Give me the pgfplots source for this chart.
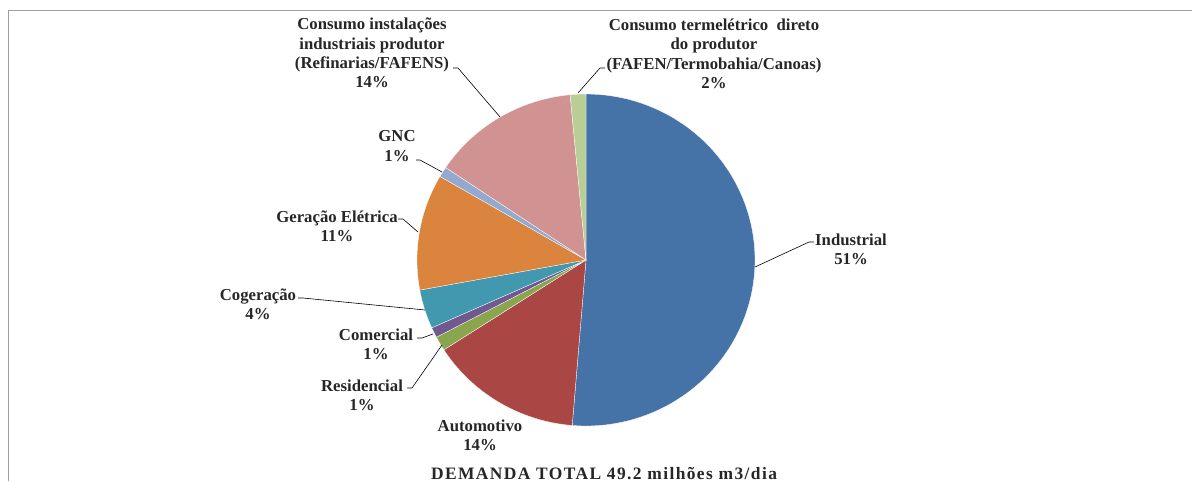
\documentclass[border=0pt]{standalone}
\usepackage{pgfplots}
\pgfplotsset{compat=1.18}
\usepackage{fontspec}
\setmainfont{Liberation Serif}
\definecolor{c1}{HTML}{4572A7}
\definecolor{c2}{HTML}{AA4643}
\definecolor{c3}{HTML}{89A54E}
\definecolor{c4}{HTML}{71588F}
\definecolor{c5}{HTML}{4198AF}
\definecolor{c6}{HTML}{DB843D}
\definecolor{c7}{HTML}{93A9CF}
\definecolor{c8}{HTML}{D19392}
\definecolor{c9}{HTML}{B9CD96}
\begin{document}
\begin{tikzpicture}
\begin{axis}[
  scale only axis, width=1192bp, height=481bp,
  xmin=-586, xmax=606, ymin=-221, ymax=260,
  hide axis, clip=false,
]
% shares (%) : Industrial, Automotivo, Residencial, Comercial, Cogeracao,
% Geracao Eletrica, GNC, Consumo instalacoes, Consumo termeletrico
\def\slices{51.3/c1, 14.6/c2, 1.4/c3, 1.0/c4, 3.8/c5, 11.3/c6, 1.0/c7, 14.1/c8, 1.5/c9}
\xdef\cum{0}
\foreach \v/\c in \slices {
  \pgfmathsetmacro\a{\cum*3.6}
  \pgfmathsetmacro\b{(\cum+\v)*3.6}
  \edef\temp{\noexpand\addplot[fill=\c, draw=white, line width=0.3pt, domain=\a:\b, samples=80]
     ({169*sin(x)},{166*cos(x)}) -- (axis cs:0,0) -- cycle;}
  \temp
  \pgfmathparse{\cum+\v}\xdef\cum{\pgfmathresult}
}
% frame
\draw[color=black!38, line width=1bp] (axis cs:606,249) -- (axis cs:-578,249) -- (axis cs:-578,-221);
% leader lines
\begin{scope}[line width=0.6bp, black]
\draw (axis cs:-133,192) -- (axis cs:-128,192) -- (axis cs:-86,143);
\draw (axis cs:19,192) -- (axis cs:14,192) -- (axis cs:-8,167);
\draw (axis cs:-170,100) -- (axis cs:-166,100) -- (axis cs:-144,88);
\draw (axis cs:-188,41) -- (axis cs:-183,41) -- (axis cs:-168,28);
\draw (axis cs:-288,-38) -- (axis cs:-283,-38) -- (axis cs:-161,-50);
\draw (axis cs:-169,-78) -- (axis cs:-164,-78) -- (axis cs:-153,-74);
\draw (axis cs:-179,-128) -- (axis cs:-174,-128) -- (axis cs:-144,-85);
\draw (axis cs:228,18) -- (axis cs:223,18) -- (axis cs:169,-7);
\end{scope}
% labels
\begin{scope}[every node/.style={align=center, font=\bfseries\fontsize{16.8}{19.5}\selectfont, inner sep=0pt, text=black!85}]
\node at (axis cs:-214,207) {Consumo instalações\\industriais produtor\\(Refinarias/FAFENS)\\14\%};
\node at (axis cs:128,206) {Consumo termelétrico\ \ direto\\do produtor\\(FAFEN/Termobahia/Canoas)\\2\%};
\node at (axis cs:-189,114) {GNC\\1\%};
\node at (axis cs:-249,34) {Geração Elétrica\\11\%};
\node at (axis cs:-328,-44.5) {Cogeração\\4\%};
\node at (axis cs:-210,-84.5) {Comercial\\1\%};
\node at (axis cs:-224,-135.5) {Residencial\\1\%};
\node at (axis cs:-106,-175.5) {Automotivo\\14\%};
\node at (axis cs:265,10.5) {Industrial\\51\%};
\node[anchor=base, font=\bfseries\fontsize{17.5}{19}\selectfont\addfontfeature{LetterSpace=8}] at (axis cs:18,-219) {DEMANDA TOTAL 49.2 milhões m3/dia};
\end{scope}
\end{axis}
\pgfresetboundingbox
\path (current axis.south west) rectangle (current axis.north east);
\end{tikzpicture}
\end{document}
